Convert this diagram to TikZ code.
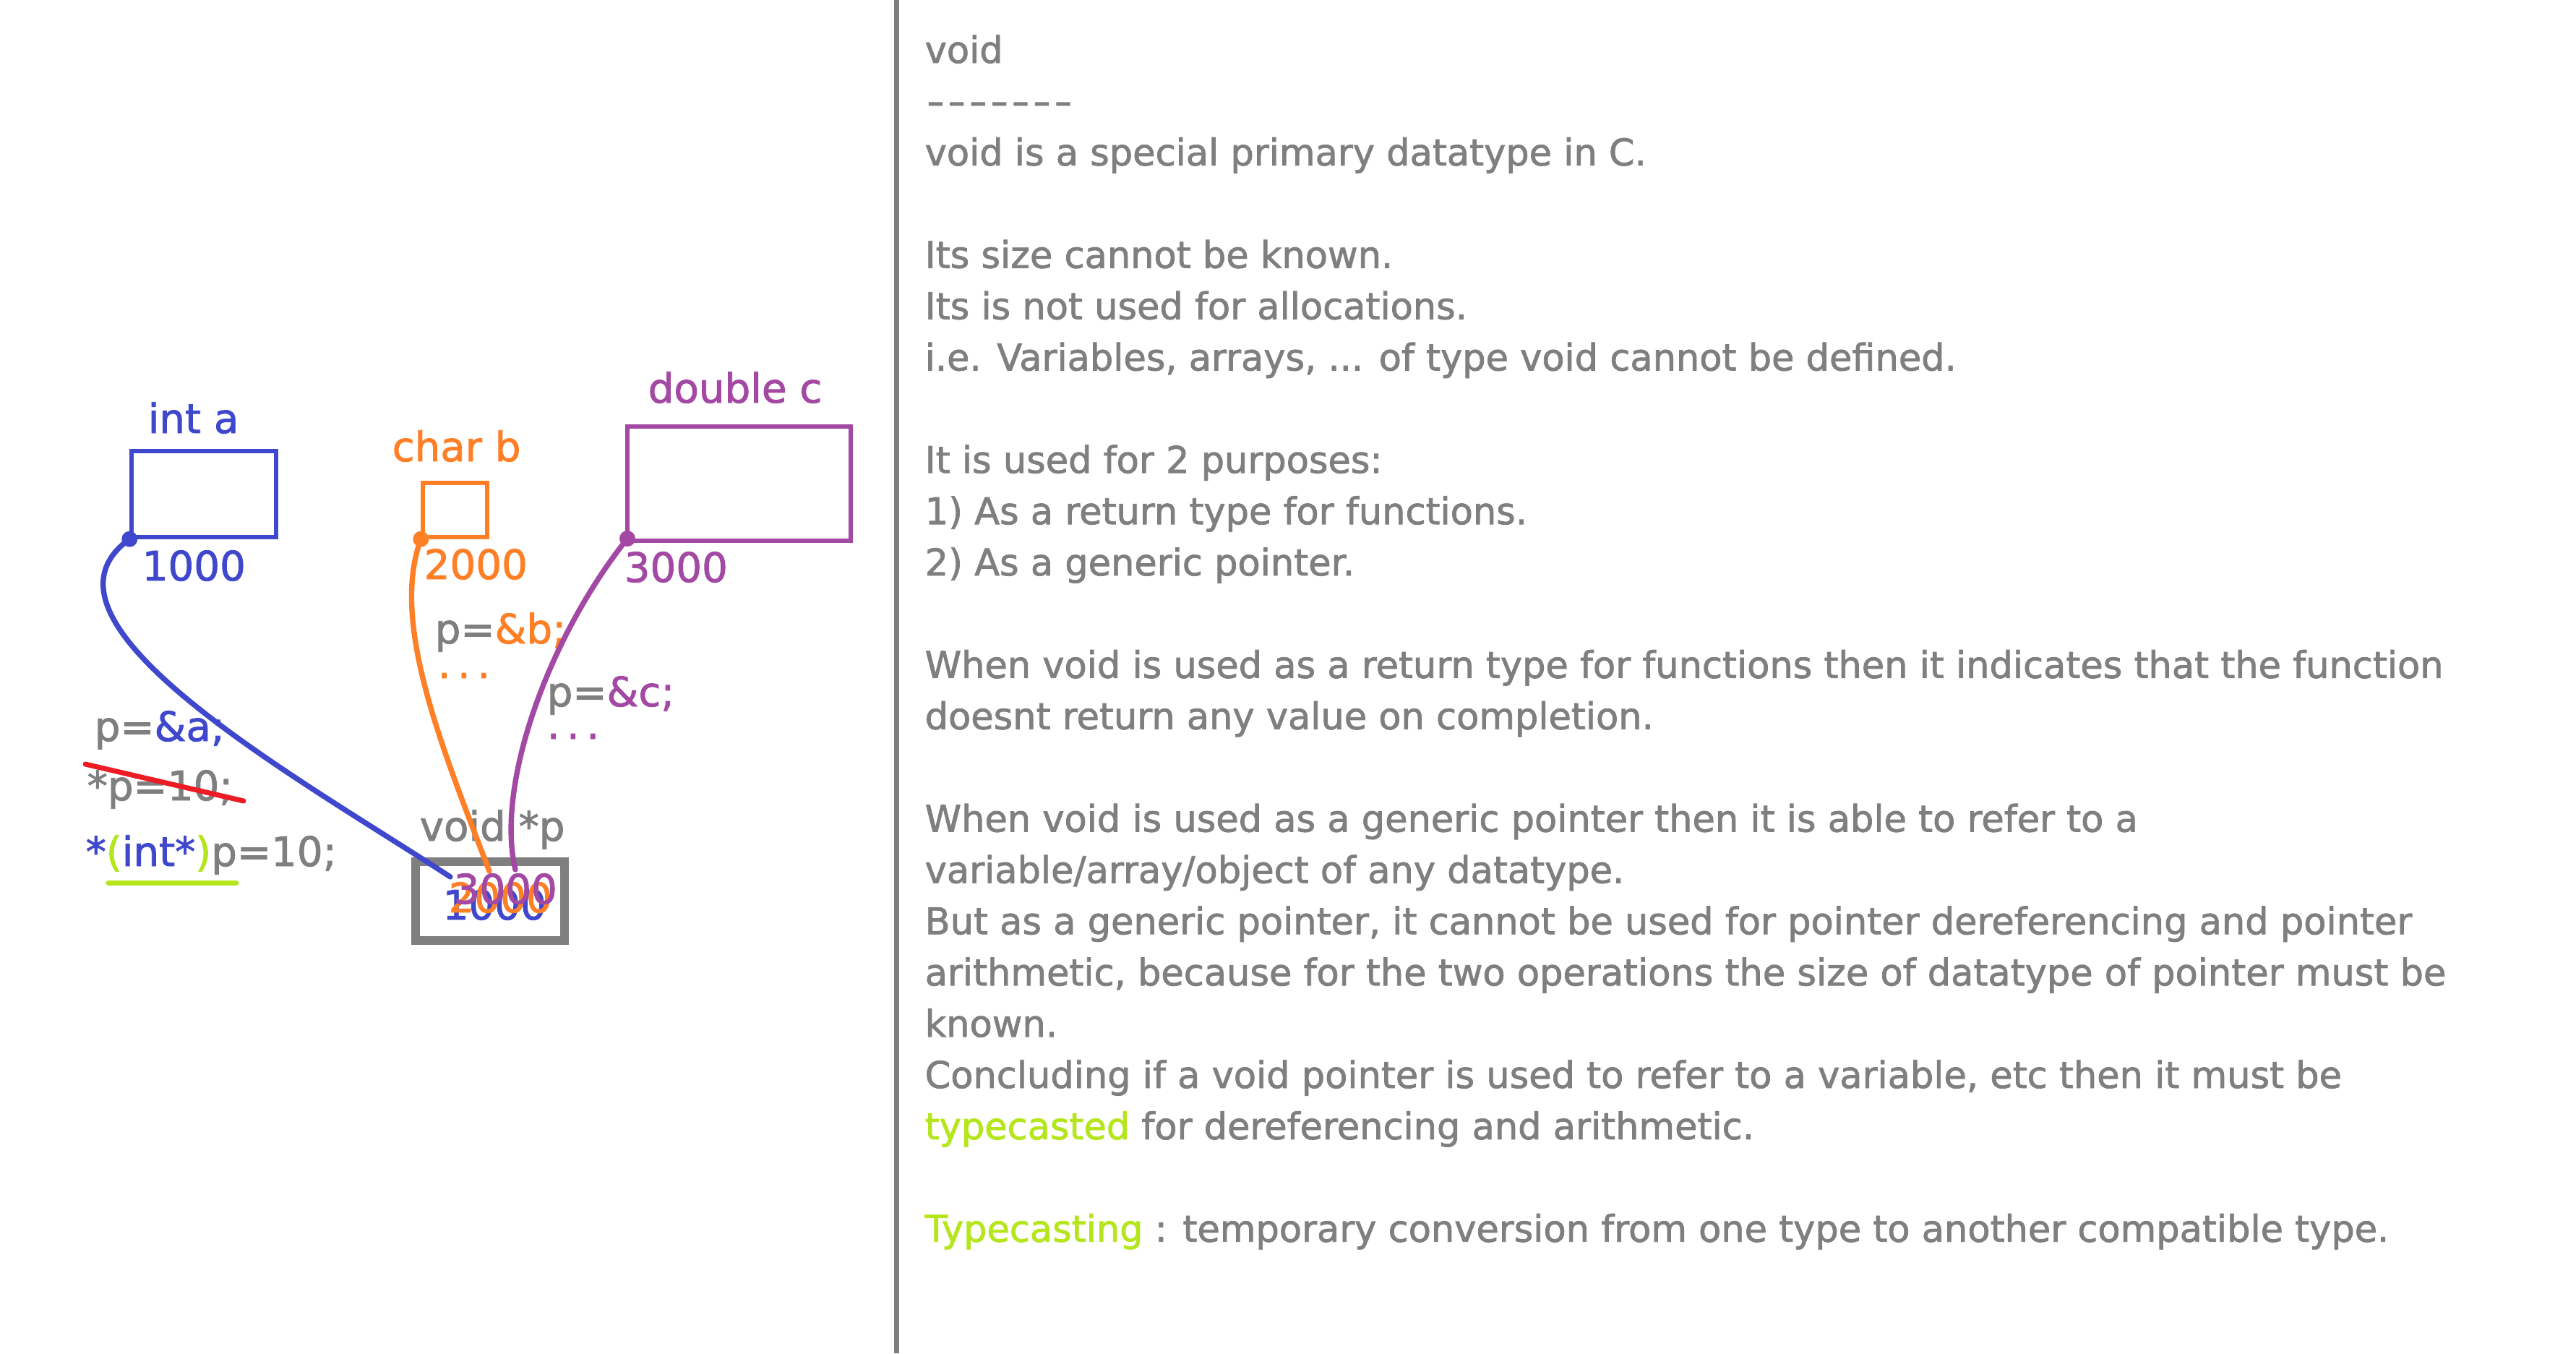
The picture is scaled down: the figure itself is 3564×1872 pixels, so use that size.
\documentclass[tikz,border=0pt]{standalone}
\usepackage{graphicx}
\usepackage{fontspec}
\setmainfont{DejaVu Sans}[FakeBold=1.6]
\definecolor{txtgrey}{HTML}{7F7F7F}
\definecolor{cblue}{HTML}{3F48CC}
\definecolor{corange}{HTML}{FF7F27}
\definecolor{cpurple}{HTML}{A349A4}
\definecolor{cred}{HTML}{ED1C24}
\definecolor{clime}{HTML}{B5E61D}
\newcommand\notefont{\fontsize{14.5pt}{20pt}\selectfont}
\newcommand\labfont{\fontsize{16pt}{20pt}\selectfont}
\newcommand\dashrow{\makebox[0.294cm][c]{\scalebox{1.35}[1]{-}}}
\tikzset{
  note/.style={anchor=base west, inner sep=0pt, text=txtgrey, font=\notefont},
  lab/.style={anchor=base west, inner sep=0pt, font=\labfont},
  membox/.style={draw, line width=1.5pt, inner sep=0pt},
  addrdot/.style={circle, fill, inner sep=0pt, minimum size=0.22cm},
  link/.style={line width=2.1pt, line cap=round},
}
\begin{document}
\begin{tikzpicture}[x=0.01cm, y=-0.01cm]
\useasboundingbox (0,0) rectangle (3564,1872);

% divider between the sketch and the notes
\coordinate (divtop) at (1240,0);
\coordinate (divbot) at (1240,1872);
\draw[txtgrey, line width=2pt] (divtop) -- (divbot);

% memory cells
\node[membox, cblue, minimum width=2cm, minimum height=1.19cm] (boxa) at (282,683.5) {};
\node[membox, corange, minimum width=0.89cm, minimum height=0.75cm] (boxb) at (629.5,705.5) {};
\node[membox, cpurple, minimum width=3.09cm, minimum height=1.58cm] (boxc) at (1022.5,669) {};
\node[membox, txtgrey, line width=3.4pt, minimum width=2.06cm, minimum height=1.09cm] (boxp) at (678,1246.5) {};

% variable names
\node[lab, text=cblue] (namea) at (204,599) {int a};
\node[lab, text=corange] (nameb) at (542,638) {char b};
\node[lab, text=cpurple] (namec) at (896,557) {double c};
\node[lab, text=txtgrey] (namep) at (580,1163) {void *p};

% addresses
\node[lab, text=cblue] (addra) at (196,803) {1000};
\node[lab, text=corange] (addrb) at (586,801) {2000};
\node[lab, text=cpurple] (addrc) at (863,805) {3000};

% start points of the links
\node[addrdot, cblue] (dota) at (boxa.south west) {};
\node[addrdot, corange] (dotb) at (boxb.south west) {};
\node[addrdot, cpurple] (dotc) at (868,745) {};

% link ends inside the pointer cell
\coordinate (enda) at (623,1213);
\coordinate (endb) at (677,1205);
\coordinate (endc) at (713,1203);

% statements
\node[lab, text=txtgrey] (asgna) at (130,1025) {p=\textcolor{cblue}{\&a;}};
\node[lab, text=txtgrey] (deref) at (120,1107) {*p=10;};
\node[lab, text=txtgrey] (cast) at (118,1198) {\textcolor{cblue}{*}\textcolor{clime}{(}\textcolor{cblue}{int*}\textcolor{clime}{)}p=10;};
\node[lab, text=txtgrey] (asgnb) at (601,890) {p=\textcolor{corange}{\&b;}};
\node[lab, text=corange] (moreb) at (605,938) {.\,.\,.};
\node[lab, text=txtgrey] (asgnc) at (756,977) {p=\textcolor{cpurple}{\&c;}};
\node[lab, text=cpurple] (morec) at (756,1022) {.\,.\,.};

% strike-through and underline
\coordinate (strikeL) at (118,1057);
\coordinate (strikeR) at (337,1108);
\draw[cred, line width=2pt, line cap=round] (strikeL) -- (strikeR);
\coordinate (ulineL) at (150,1221);
\coordinate (ulineR) at (327,1221);
\draw[clime, line width=2pt, line cap=round] (ulineL) -- (ulineR);

% links and the values stored in p
\draw[link, cblue] (dota.center) .. controls (20,860) and (420,1080) .. (enda);
\node[lab, text=cblue] (vala) at (612,1272) {1000};
\draw[link, corange] (dotb.center) .. controls (540,860) and (610,1030) .. (endb);
\node[lab, text=corange] (valb) at (620,1262) {2000};
\draw[link, cpurple] (dotc.center) .. controls (760,880) and (685,1085) .. (endc);
\node[lab, text=cpurple] (valc) at (627,1250) {3000};

% notes
\node[note] (n1) at (1279,87) {void};
\node[note] (n2) at (1279,157.9) {\dashrow\dashrow\dashrow\dashrow\dashrow\dashrow\dashrow};
\node[note] (n3) at (1279,228.8) {void is a special primary datatype in C.};
\node[note] (n4) at (1279,370.6) {Its size cannot be known.};
\node[note] (n5) at (1279,441.5) {Its is not used for allocations.};
\node[note] (n6) at (1279,512.4) {i.e. Variables, arrays, ... of type void cannot be defined.};
\node[note] (n7) at (1279,654.2) {It is used for 2 purposes:};
\node[note] (n8) at (1279,725.1) {1) As a return type for functions.};
\node[note] (n9) at (1279,796) {2) As a generic pointer.};
\node[note] (n10) at (1279,937.8) {When void is used as a return type for functions then it indicates that the function};
\node[note] (n11) at (1279,1008.7) {doesnt return any value on completion.};
\node[note] (n12) at (1279,1150.5) {When void is used as a generic pointer then it is able to refer to a};
\node[note] (n13) at (1279,1221.4) {variable/array/object of any datatype.};
\node[note] (n14) at (1279,1292.3) {But as a generic pointer, it cannot be used for pointer dereferencing and pointer};
\node[note] (n15) at (1279,1363.2) {arithmetic, because for the two operations the size of datatype of pointer must be};
\node[note] (n16) at (1279,1434.1) {known.};
\node[note] (n17) at (1279,1505) {Concluding if a void pointer is used to refer to a variable, etc then it must be};
\node[note] (n18) at (1279,1575.9) {\textcolor{clime}{typecasted} for dereferencing and arithmetic.};
\node[note] (n19) at (1279,1717.7) {\textcolor{clime}{Typecasting} : temporary conversion from one type to another compatible type.};
\end{tikzpicture}
\end{document}
